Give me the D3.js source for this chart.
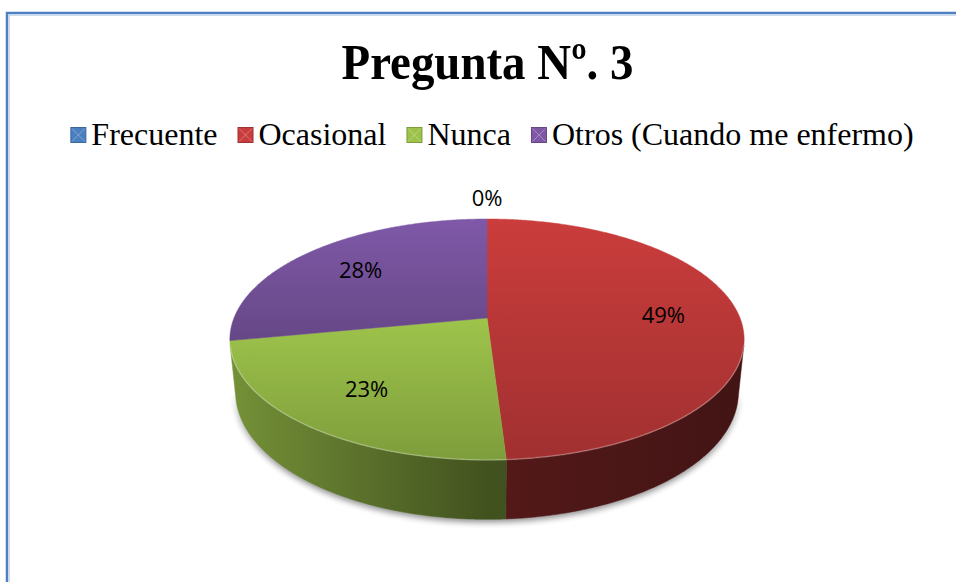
<!DOCTYPE html>
<html>
<head>
<meta charset="utf-8">
<script src="https://cdn.jsdelivr.net/npm/d3@7"></script>
<style>
  body { margin: 0; background: #fff; }
  svg { display: block; }
</style>
</head>
<body>
<div id="chart"></div>
<script>
const categories = ["Frecuente", "Ocasional", "Nunca", "Otros (Cuando me enfermo)"];
const percents = [0, 49, 23, 28];
const colors = ["#4a7fc0", "#c83c3b", "#9cc24a", "#7e58a6"];
const title = "Pregunta Nº. 3";

function init() {
    var w = 956;
    var h = 582;

    // 3d pie camera (perspective view of a tilted disc)
    var cx = 487, cy = 318;
    var sinA = 0.461, cosA = Math.sqrt(1 - sinA * sinA);
    var dist0 = 4.98;           // camera distance in radius units
    var focal = 1260;           // px
    var depth = 0.237;          // pie thickness in radius units

    function project(theta, r, y) {
        var X = r * Math.sin(theta), Z = -r * Math.cos(theta);
        var up = y * cosA - Z * sinA;
        var toward = Z * cosA + y * sinA;
        var d = dist0 - toward;
        return [cx + focal * X / d, cy - focal * up / d];
    }

    function arcPoints(a0, a1, y) {
        var n = Math.max(2, Math.ceil(Math.abs(a1 - a0) / 0.01));
        return d3.range(n + 1).map(i => project(a0 + (a1 - a0) * i / n, 1, y));
    }

    var line = d3.line();

    var svg = d3.select("#chart").append("svg")
        .attr("width", w)
        .attr("height", h);

    var defs = svg.append("defs");

    // chart frame
    svg.append("rect")
        .attr("x", 7).attr("y", 13)
        .attr("width", w + 20).attr("height", h + 20)
        .attr("fill", "#fff")
        .attr("stroke", "#4f81c2")
        .attr("stroke-width", 2.5);
    svg.append("rect")
        .attr("x", 9.2).attr("y", 15.2)
        .attr("width", w + 20).attr("height", h + 20)
        .attr("fill", "none")
        .attr("stroke", "#b8cce8")
        .attr("stroke-width", 1);

    // title
    svg.append("text")
        .attr("x", 487.5)
        .attr("y", 79)
        .attr("text-anchor", "middle")
        .attr("font-family", "'Liberation Serif', 'Times New Roman', serif")
        .attr("font-weight", "bold")
        .attr("font-size", 51)
        .attr("textLength", 292)
        .attr("lengthAdjust", "spacingAndGlyphs")
        .text(title);

    // legend
    var legend = svg.append("g").attr("class", "legend");
    var items = legend.selectAll("g").data(categories).join("g");
    items.append("rect")
        .attr("x", 0.5).attr("y", 127.5)
        .attr("width", 15).attr("height", 15)
        .attr("fill", (d, i) => colors[i])
        .attr("stroke", (d, i) => d3.color(colors[i]).darker(0.6))
        .attr("stroke-width", 1);
    items.append("path")
        .attr("d", "M1.5,1.5 L8,8 L14.5,1.5 M1.5,14.5 L8,8 L14.5,14.5")
        .attr("transform", "translate(0,127)")
        .attr("stroke", "#fff")
        .attr("stroke-opacity", 0.3)
        .attr("fill", "none");
    items.append("text")
        .attr("x", 21)
        .attr("y", 145)
        .attr("font-family", "'Liberation Serif', 'Times New Roman', serif")
        .attr("font-size", 32)
        .attr("fill", "#000")
        .text(d => d);
    var xs = 0, offsets = [];
    items.each(function () {
        offsets.push(xs);
        xs += 21 + d3.select(this).select("text").node().getComputedTextLength() + 20;
    });
    var legendW = xs - 20;
    var legendX = 492 - legendW / 2;
    items.attr("transform", (d, i) => `translate(${legendX + offsets[i]},0)`);

    // pie
    var pieData = categories.map((c, i) => ({ name: c, value: percents[i], color: colors[i] }));
    var arcs = d3.pie().sort(null).value(d => d.value).startAngle(0).endAngle(2 * Math.PI)(pieData);

    var left = cx - 260, right = cx + 260;

    arcs.forEach((a, i) => {
        var c = d3.color(a.data.color);
        var gt = defs.append("linearGradient").attr("id", "top" + i)
            .attr("x1", 0).attr("y1", 0).attr("x2", 0).attr("y2", 1);
        gt.append("stop").attr("offset", 0).attr("stop-color", c.brighter(0.03));
        gt.append("stop").attr("offset", 1).attr("stop-color", c.darker(0.6));
        var gs = defs.append("linearGradient").attr("id", "side" + i)
            .attr("gradientUnits", "userSpaceOnUse")
            .attr("x1", left).attr("y1", 0).attr("x2", right).attr("y2", 0);
        gs.append("stop").attr("offset", 0).attr("stop-color", c.darker(0.8));
        gs.append("stop").attr("offset", 0.5).attr("stop-color", c.darker(2.4));
        gs.append("stop").attr("offset", 1).attr("stop-color", c.darker(3.1));
    });

    defs.append("filter").attr("id", "blur")
        .attr("x", "-10%").attr("y", "-10%").attr("width", "120%").attr("height", "130%")
        .append("feGaussianBlur").attr("stdDeviation", 3);

    // visible part of the wall
    var cmax = -1 / (dist0 * cosA);
    var vis0 = Math.acos(cmax), vis1 = 2 * Math.PI - vis0;

    // shadow under the pie
    var shadowPts = arcPoints(vis0, vis1, -depth).map(p => [p[0], p[1] + 3]);
    svg.append("path")
        .attr("d", line(shadowPts.concat(arcPoints(vis1, vis0, -depth).map(p => [p[0], p[1] - 6]))) + "Z")
        .attr("fill", "#000")
        .attr("opacity", 0.45)
        .attr("filter", "url(#blur)");

    var pie = svg.append("g");

    arcs.forEach((a, i) => {
        var s = Math.max(a.startAngle, vis0), e = Math.min(a.endAngle, vis1);
        if (e <= s) return;
        var pts = arcPoints(s, e, 0).concat(arcPoints(e, s, -depth));
        pie.append("path")
            .attr("d", line(pts) + "Z")
            .attr("fill", `url(#side${i})`)
            .attr("stroke", `url(#side${i})`)
            .attr("stroke-width", 0.5);
    });

    arcs.forEach((a, i) => {
        if (a.endAngle - a.startAngle <= 0) return;
        var pts = [project(0, 0, 0)].concat(arcPoints(a.startAngle, a.endAngle, 0));
        pie.append("path")
            .attr("d", line(pts) + "Z")
            .attr("fill", `url(#top${i})`)
            .attr("stroke", `url(#top${i})`)
            .attr("stroke-width", 0.5);
    });

    // soft highlight along the front rim
    pie.append("path")
        .attr("d", line(arcPoints(vis0, vis1, 0)))
        .attr("fill", "none")
        .attr("stroke", "#fff")
        .attr("stroke-opacity", 0.25)
        .attr("stroke-width", 1.5);

    // data labels
    var total = d3.sum(percents);
    svg.append("g").selectAll("text").data(arcs).join("text")
        .attr("transform", d => {
            var mid = (d.startAngle + d.endAngle) / 2;
            var p = d.value > 0 ? project(mid, 0.7, 0) : project(mid, 1, 0);
            if (d.value === 0) p[1] -= 21;
            return `translate(${p[0]},${p[1]})`;
        })
        .attr("text-anchor", "middle")
        .attr("dy", "0.36em")
        .attr("font-family", "'Open Sans', 'Liberation Sans', sans-serif")
        .attr("font-size", 22)
        .attr("fill", "#000")
        .text(d => Math.round(d.value / total * 100) + "%");
}

window.onload = init;
</script>
</body>
</html>
